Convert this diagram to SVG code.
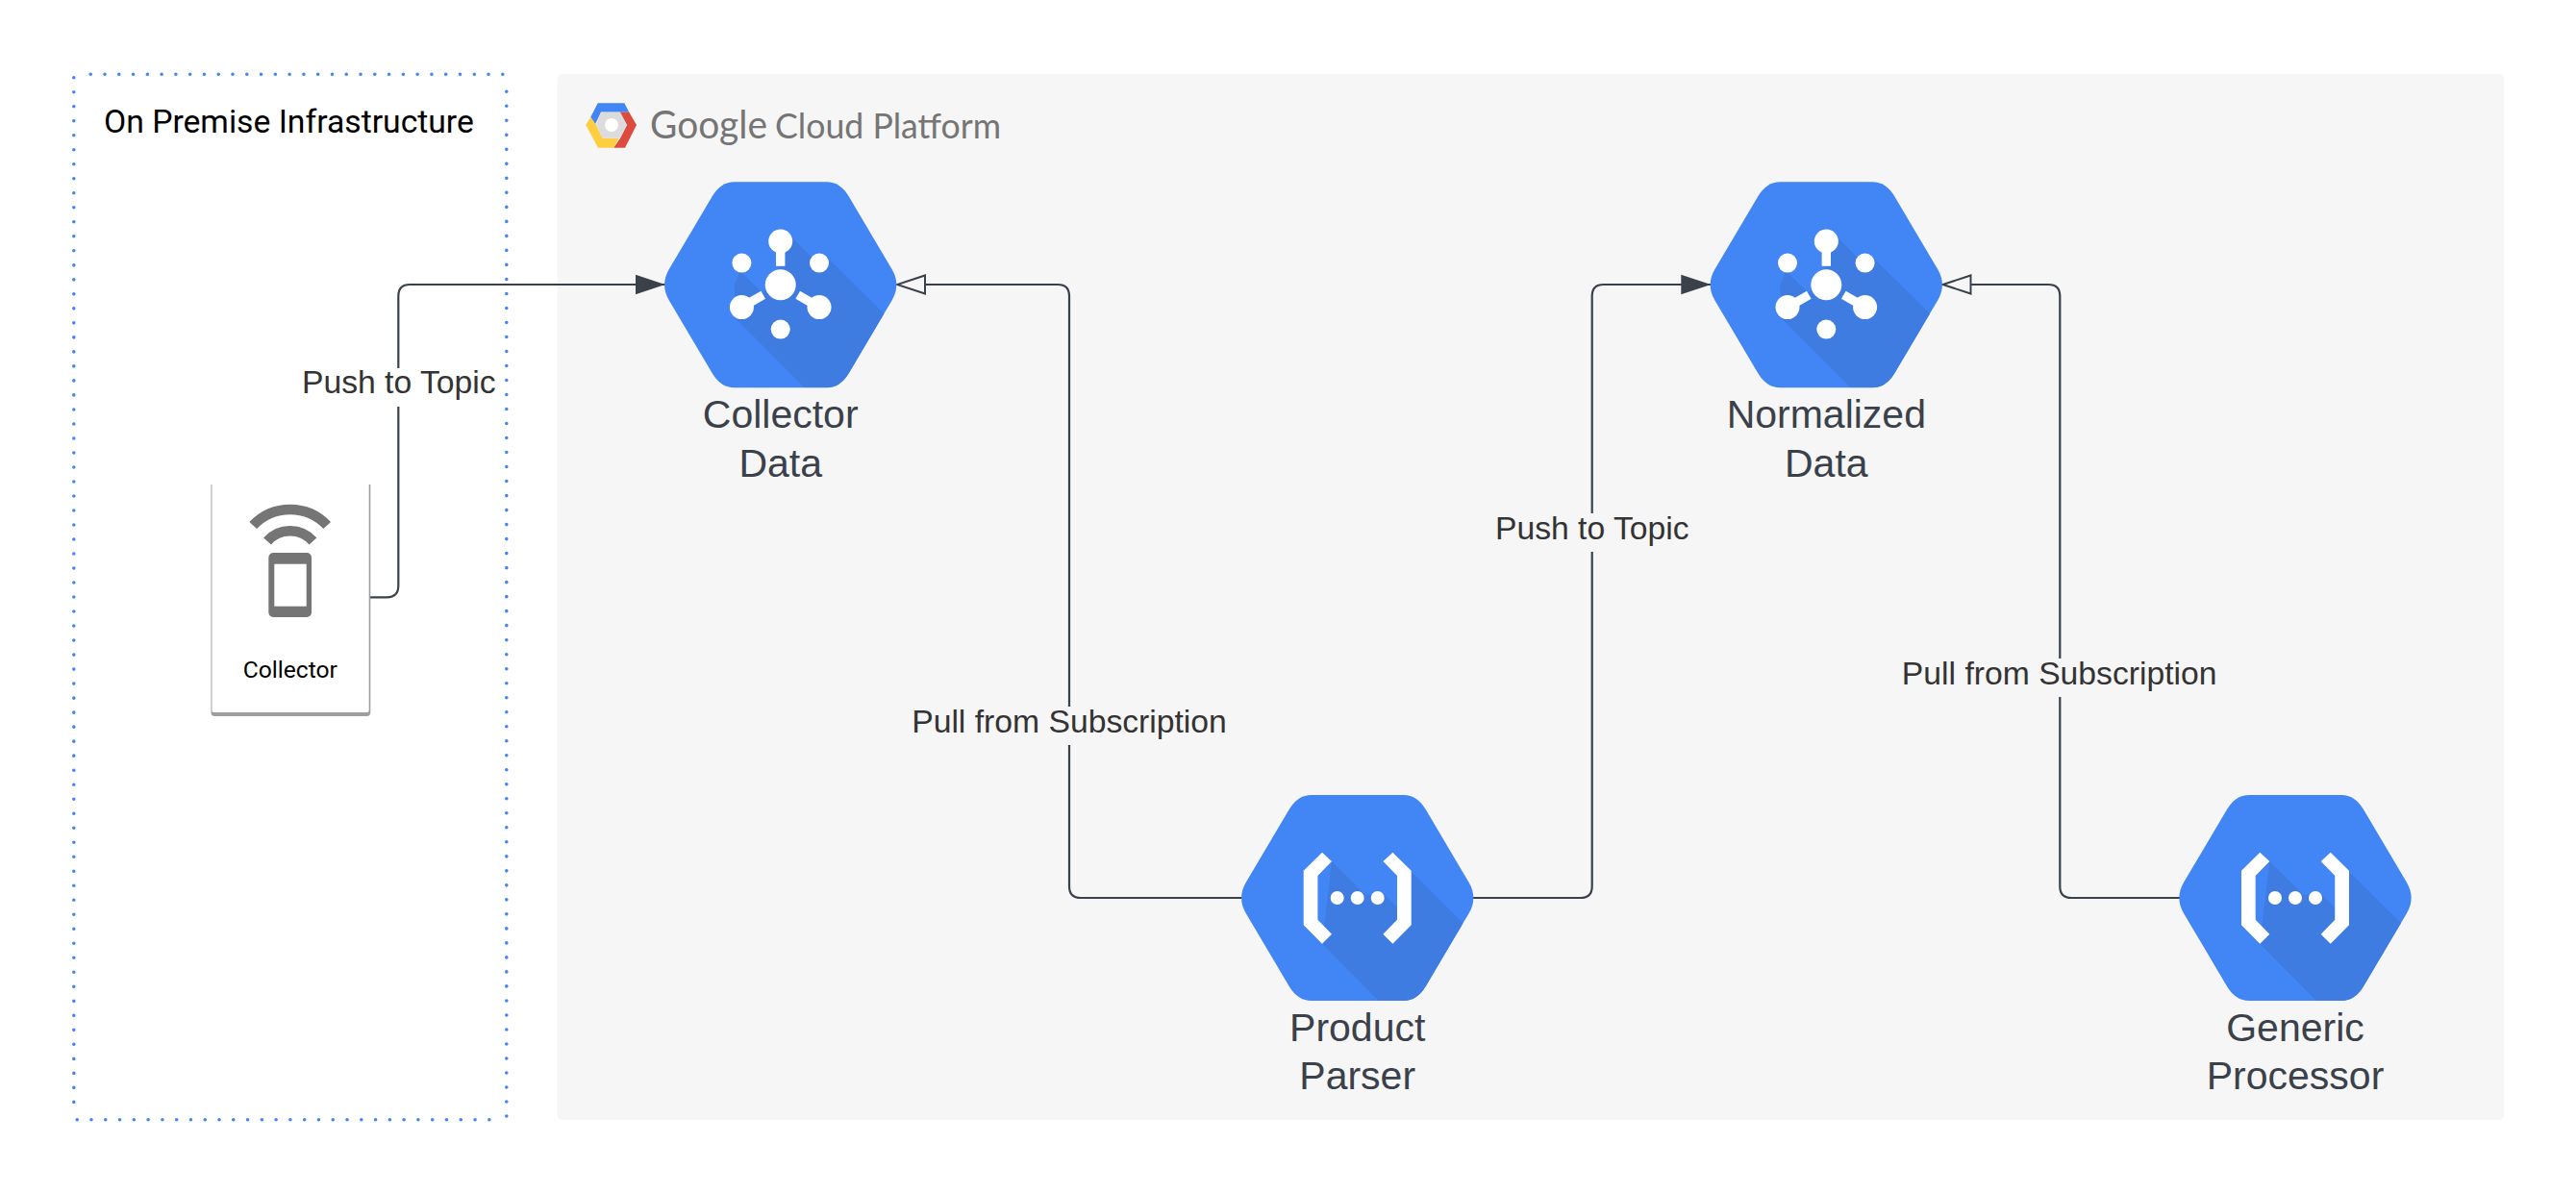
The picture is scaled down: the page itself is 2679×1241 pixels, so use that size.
<svg xmlns="http://www.w3.org/2000/svg" xmlns:xlink="http://www.w3.org/1999/xlink" width="2679" height="1241" viewBox="0 0 2679 1241">
<style>
text{font-family:"Liberation Sans",Arial,sans-serif}
.rb{font-family:Roboto,"Liberation Sans",sans-serif}
.dots{fill:none;stroke:#4285f4;stroke-width:3.6;stroke-linecap:round}
.conn{fill:none;stroke:#3a414a;stroke-width:2.2}
.edge{font-size:33.7px;fill:#333;text-anchor:middle}
.hexlabel{font-size:41px;fill:#3a414a;text-anchor:middle}
.hex{fill:#4285f4}
.shade{fill:#3e7ce2}
.w{fill:#fff}
</style>
<defs>
<path id="hexshape" d="M-48 -107L48 -107Q62 -107 71 -92L116 -16Q125.3 0 116 16L71 92Q62 107 48 107L-48 107Q-62 107 -71 92L-116 16Q-125.3 0 -116 -16L-71 -92Q-62 -107 -48 -107Z"/>
<clipPath id="hexclip"><use href="#hexshape"/></clipPath>
<marker id="solid" markerUnits="userSpaceOnUse" markerWidth="32" markerHeight="24" refX="31" refY="12" orient="auto"><polygon points="0,1.7 31,12 0,22.3" fill="#3a414a"/></marker>
<marker id="open" markerUnits="userSpaceOnUse" markerWidth="34" markerHeight="24" refX="31" refY="12" orient="auto"><polygon points="2,2.5 31,12 2,21.5" fill="#f6f6f6" stroke="#3a414a" stroke-width="2"/></marker>
<g id="pubsub">
<use href="#hexshape" class="hex"/>
<path class="shade" clip-path="url(#hexclip)" d="M11.7 -49.3L31.7 -29.3L47.7 -29.3L106.7 29L140 62L140 125L25 125L25 106.7L-46.7 35L-48 0L-41.7 -14.3L-18.3 9L0 -20Z"/>
<g class="w">
<circle cx="0" cy="0" r="16"/><circle cx="0" cy="-45.3" r="12.5"/><rect x="-4.7" y="-45" width="9.4" height="25.5"/>
<circle cx="-40.3" cy="-22.7" r="10"/><circle cx="40.3" cy="-22.7" r="10"/><circle cx="0" cy="46.3" r="10"/>
<circle cx="-40.3" cy="23.3" r="12.5"/><circle cx="40.3" cy="23.3" r="12.5"/>
<path d="M-40.3 23.3L-18 10.4M40.3 23.3L18 10.4" stroke="#fff" stroke-width="9.4" fill="none"/>
</g>
</g>
<g id="func">
<use href="#hexshape" class="hex"/>
<path class="shade" clip-path="url(#hexclip)" d="M-26.7 -38L8.3 -3L26.3 -5L41.7 10.3L56 -27.3L108.3 24.7L140 60L140 125L21.7 125L21.7 106.7L-36.7 47.7Z"/>
<g class="w">
<polygon points="-36.7,-47.3 -56,-28.3 -56,28.3 -36.7,47.7 -26.7,37.7 -41.3,22.7 -41.3,-23 -26.7,-38"/>
<polygon points="36.7,-47.3 56,-28.3 56,28.3 36.7,47.7 26.7,37.7 41.3,22.7 41.3,-23 26.7,-38"/>
<circle cx="-21" cy="0" r="7"/><circle cx="0" cy="0" r="7"/><circle cx="21" cy="0" r="7"/>
</g>
</g>
</defs>
<rect width="2679" height="1241" fill="#fff"/>
<g id="on-premise">
<path class="dots" stroke-dasharray="0 14.78" d="M94.2 77.3H525"/>
<path class="dots" stroke-dasharray="0 15.01" d="M526.8 95.3V1163"/>
<path class="dots" stroke-dasharray="0 14.78" d="M80.2 1164.7H510"/>
<path class="dots" stroke-dasharray="0 15.01" d="M76.8 80.7V1148"/>
<text class="rb" x="108" y="138" font-size="33.7" fill="#000">On Premise Infrastructure</text>
</g>
<g id="gcp">
<rect x="579.5" y="77" width="2024.5" height="1088" rx="5" fill="#f6f6f6"/>
<polygon points="621.7,107.3 649.3,107.3 654.3,116.7 625,116.7 619,129.3 614.3,121.7" fill="#4285f4"/>
<polygon points="609.3,130 614.3,121.7 620,130 626.7,143.7 643.3,144 638.3,153.7 622,153.7" fill="#ffcd40"/>
<polygon points="644.3,116.7 654.3,116.7 662,130 650,153.7 638.3,153.7 645,143.7 652,130" fill="#dd4b3e"/>
<polygon points="625,116.5 645,116.5 652,130 645,143.7 626.7,143.7 620,130" fill="#dcdcdc"/>
<circle cx="636" cy="130" r="7" fill="#fff"/>
<text y="144" fill="#757575" font-size="41" font-weight="400" style="font-family:Lato,'Open Sans',sans-serif"><tspan x="676" textLength="122" lengthAdjust="spacingAndGlyphs">Google</tspan> <tspan x="806" font-size="37.5" textLength="235" lengthAdjust="spacingAndGlyphs">Cloud Platform</tspan></text>
</g>
<g id="connectors">
<path class="conn" marker-end="url(#solid)" d="M384.3 621.3H402.3Q414.3 621.3 414.3 609.3V423M414.3 383V308Q414.3 296 426.3 296H691.7"/>
<path class="conn" marker-end="url(#open)" d="M1291.7 934H1124Q1112 934 1112 922V775M1112 735V308Q1112 296 1100 296H933"/>
<path class="conn" marker-end="url(#solid)" d="M1531.7 934H1643.7Q1655.7 934 1655.7 922V574M1655.7 534V308Q1655.7 296 1667.7 296H1779.3"/>
<path class="conn" marker-end="url(#open)" d="M2267 934H2154.3Q2142.3 934 2142.3 922V725M2142.3 685V308Q2142.3 296 2130.3 296H2020.5"/>
<text class="edge" x="414.8" y="409">Push to Topic</text>
<text class="edge" x="1112" y="761.7">Pull from Subscription</text>
<text class="edge" x="1655.8" y="560.7">Push to Topic</text>
<text class="edge" x="2141.7" y="711.7">Pull from Subscription</text>
</g>
<g id="collector">
<path d="M219.4 504H385.3V741Q385.3 745 381.3 745H223.4Q219.4 745 219.4 741Z" fill="#9e9e9e"/>
<path d="M220.4 504H383.7V739Q383.7 741 381.7 741H222.4Q220.4 741 220.4 739Z" fill="#fff"/>
<path d="M219.8 504V741" stroke="#cfcfcf" stroke-width="1.2"/>
<rect x="279.3" y="575" width="44.7" height="67" rx="5" fill="#757575"/>
<rect x="285.3" y="586.7" width="33.4" height="44" fill="#fff"/>
<path d="M263.2 546.5A53 53 0 0 1 340.2 546.5M278 563A31.5 31.5 0 0 1 325.4 563" fill="none" stroke="#757575" stroke-width="10.5"/>
<text class="rb" x="301.8" y="705" font-size="24.6" fill="#000" text-anchor="middle">Collector</text>
</g>
<g id="collector-data">
<use href="#pubsub" x="811.7" y="296.3"/>
<text class="hexlabel" x="811.7" y="445">Collector</text>
<text class="hexlabel" x="811.7" y="496">Data</text>
</g>
<g id="normalized-data">
<use href="#pubsub" x="1899.3" y="296.3"/>
<text class="hexlabel" x="1899.3" y="445">Normalized</text>
<text class="hexlabel" x="1899.3" y="496">Data</text>
</g>
<g id="product-parser">
<use href="#func" x="1411.7" y="934"/>
<text class="hexlabel" x="1411.7" y="1082.7">Product</text>
<text class="hexlabel" x="1411.7" y="1132.7">Parser</text>
</g>
<g id="generic-processor">
<use href="#func" x="2387" y="934"/>
<text class="hexlabel" x="2387" y="1082.7">Generic</text>
<text class="hexlabel" x="2387" y="1132.7">Processor</text>
</g>
</svg>
